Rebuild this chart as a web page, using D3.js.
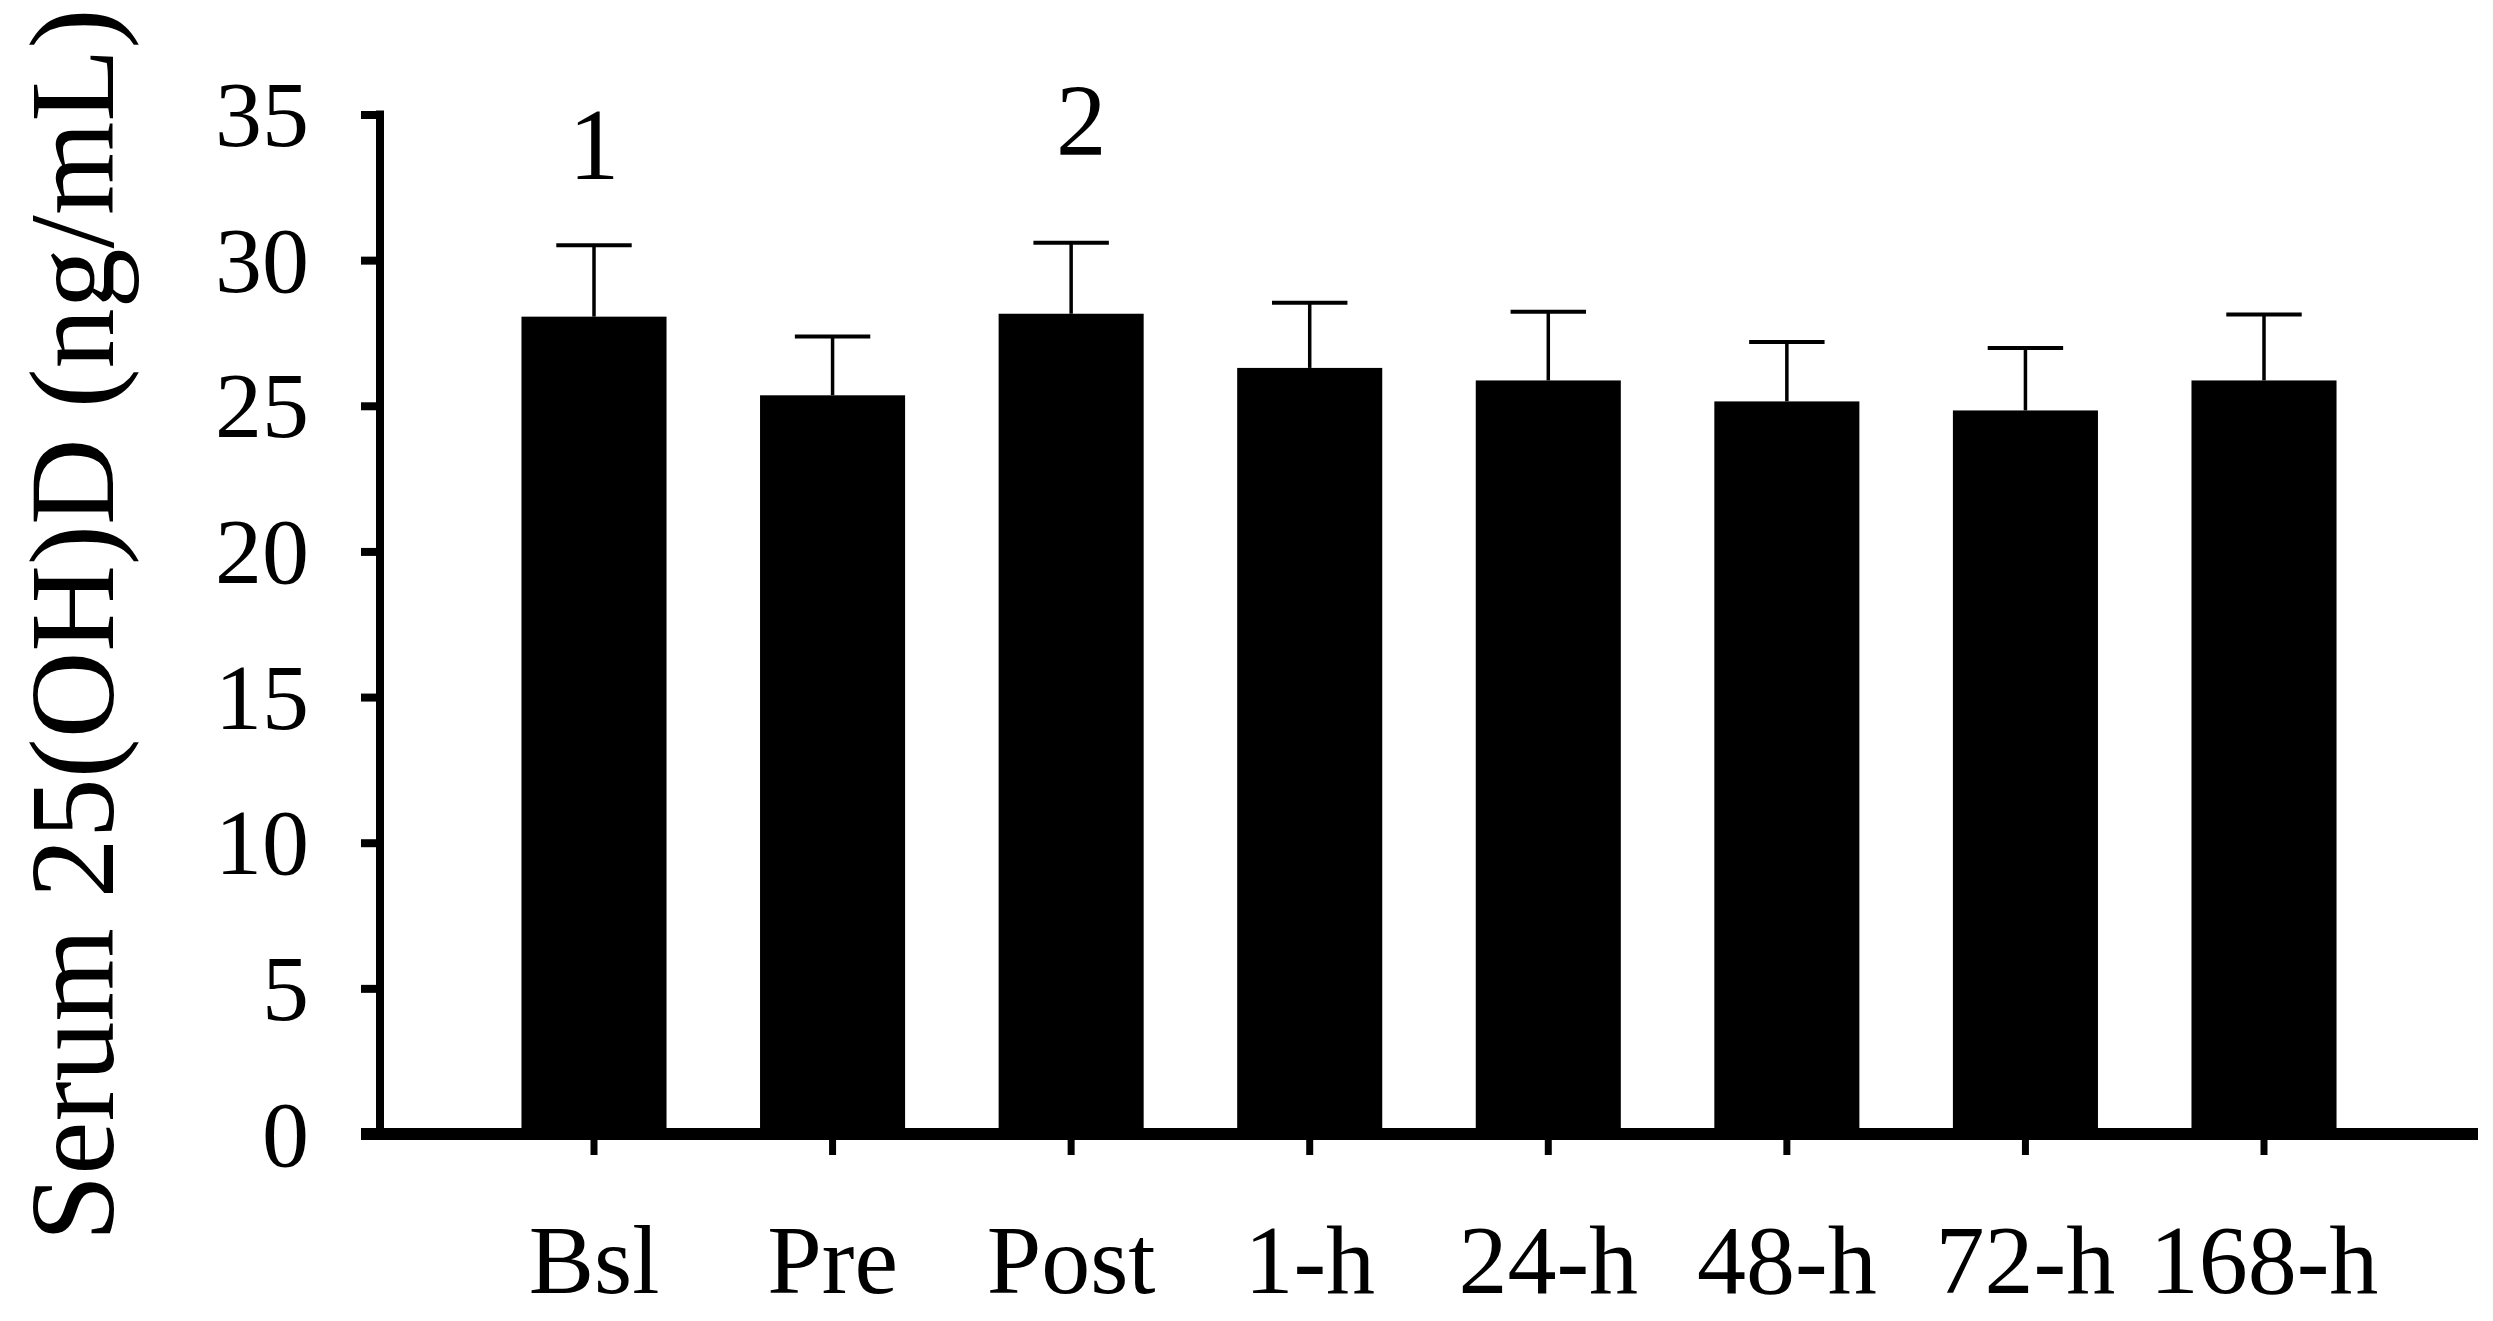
<!DOCTYPE html>
<html>
<head>
<meta charset="utf-8">
<script src="https://cdn.jsdelivr.net/npm/d3@7"></script>
<style>
  html, body { margin: 0; padding: 0; background: #fff; }
  svg { display: block; }
  text { font-family: "Liberation Serif", "Times New Roman", serif; fill: #000; }
</style>
</head>
<body>
<svg id="chart" width="2493" height="1321"></svg>
<script>
// ---- data ----
const categories = ["Bsl", "Pre", "Post", "1-h", "24-h", "48-h", "72-h", "168-h"];
const means = [28.06, 25.36, 28.16, 26.30, 25.87, 25.15, 24.84, 25.87];
const errors = [2.45, 2.02, 2.44, 2.24, 2.36, 2.04, 2.14, 2.26];
const yTicks = [0, 5, 10, 15, 20, 25, 30, 35];
const annotationCats = ["Bsl", "Post"];
const annotationLabels = ["1", "2"];
const annotationLevels = [32.8, 33.6];
const yTitle = "Serum 25(OH)D (ng/mL)";

// ---- layout ----
const svg = d3.select("#chart");
const x0 = 380, x1 = 2478, yBase = 1134, yTop = 114.5;
const tickLen = 19;

const x = d3.scaleBand().domain(categories).range([x0, x1])
  .paddingInner(0.392).paddingOuter(0.593);
const y = d3.scaleLinear().domain([0, 35]).range([yBase, yTop]);

const data = categories.map((c, i) => ({ cat: c, v: means[i], e: errors[i] }));
const annotations = annotationCats.map((c, i) => ({ cat: c, label: annotationLabels[i], at: annotationLevels[i] }));

// bars
svg.append("g").selectAll("rect").data(data).join("rect")
  .attr("x", d => x(d.cat))
  .attr("y", d => y(d.v))
  .attr("width", x.bandwidth())
  .attr("height", d => y(0) - y(d.v))
  .attr("fill", "#000");

// error bars
const eg = svg.append("g").attr("stroke", "#000");
eg.selectAll("line.v").data(data).join("line").attr("class", "v")
  .attr("x1", d => x(d.cat) + x.bandwidth() / 2)
  .attr("x2", d => x(d.cat) + x.bandwidth() / 2)
  .attr("y1", d => y(d.v))
  .attr("y2", d => y(d.v + d.e))
  .attr("stroke-width", 3.5);
eg.selectAll("line.c").data(data).join("line").attr("class", "c")
  .attr("x1", d => x(d.cat) + x.bandwidth() / 2 - x.bandwidth() * 0.26)
  .attr("x2", d => x(d.cat) + x.bandwidth() / 2 + x.bandwidth() * 0.26)
  .attr("y1", d => y(d.v + d.e))
  .attr("y2", d => y(d.v + d.e))
  .attr("stroke-width", 4);

// y axis
const yAxis = svg.append("g").attr("transform", `translate(${x0},0)`)
  .call(d3.axisLeft(y).tickValues(yTicks).tickSize(tickLen).tickPadding(52).tickSizeOuter(0));
yAxis.select(".domain").remove();
yAxis.selectAll(".tick line").attr("stroke", "#000").attr("stroke-width", 8);
yAxis.selectAll(".tick text").attr("font-size", 94)
  .attr("font-family", "Liberation Serif").attr("dy", "0.33em");
svg.append("line")
  .attr("x1", x0).attr("x2", x0)
  .attr("y1", y(35) - 4).attr("y2", y(0))
  .attr("stroke", "#000").attr("stroke-width", 8);

// x axis
const xAxis = svg.append("g").attr("transform", `translate(0,${y(0)})`)
  .call(d3.axisBottom(x).tickSize(21).tickSizeOuter(0));
xAxis.select(".domain").remove();
xAxis.selectAll(".tick line").attr("stroke", "#000").attr("stroke-width", 7);
xAxis.selectAll(".tick text").attr("font-size", 98)
  .attr("font-family", "Liberation Serif").attr("y", 159).attr("dy", 0);
svg.append("line")
  .attr("x1", x0 - tickLen).attr("x2", x1)
  .attr("y1", y(0)).attr("y2", y(0))
  .attr("stroke", "#000").attr("stroke-width", 12);

// annotations
svg.append("g").selectAll("text").data(annotations).join("text")
  .attr("x", d => x(d.cat) + x.bandwidth() / 2)
  .attr("dx", (d, i) => i === 1 ? 10 : 0)
  .attr("y", d => y(d.at))
  .attr("text-anchor", "middle")
  .attr("font-size", 101)
  .text(d => d.label);

// y title
svg.append("text")
  .attr("transform", `translate(113,625) rotate(-90)`)
  .attr("text-anchor", "middle")
  .attr("font-size", 120)
  .text(yTitle);
</script>
</body>
</html>
